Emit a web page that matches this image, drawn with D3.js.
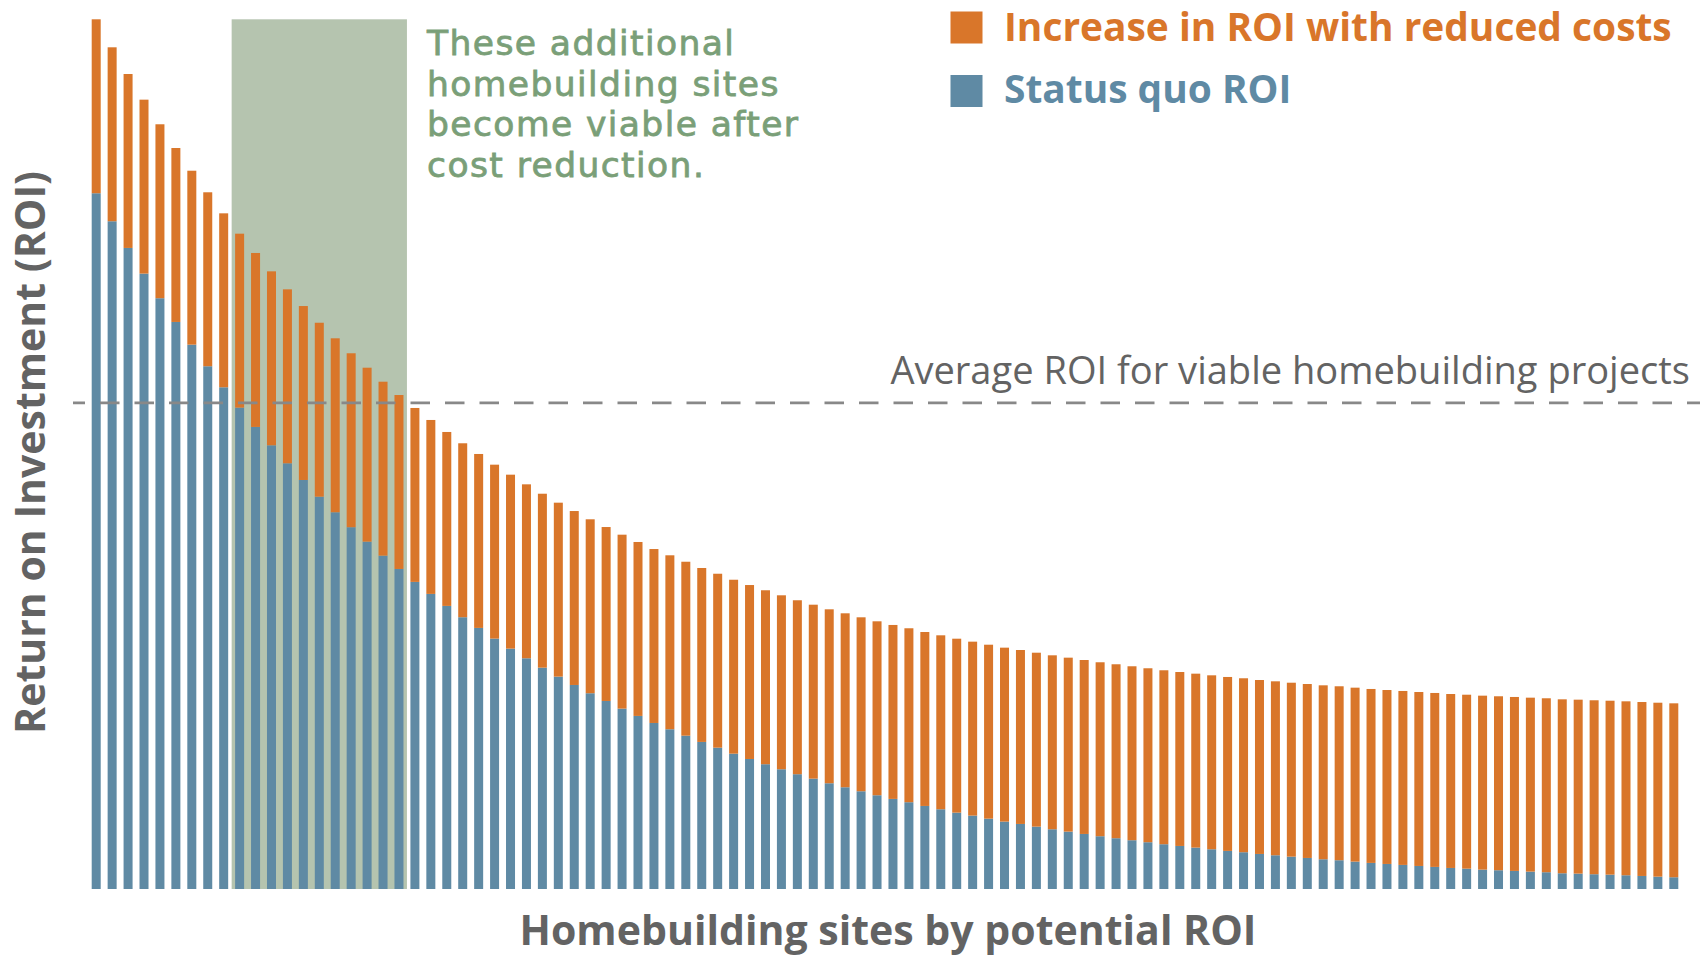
<!DOCTYPE html>
<html>
<head>
<meta charset="utf-8">
<script src="https://cdn.jsdelivr.net/npm/d3@7"></script>
<style>
  html, body { margin: 0; padding: 0; background: #ffffff; }
  svg { display: block; }
</style>
</head>
<body>
<svg id="chart" width="1700" height="958"></svg>
<script>
// ---------------- DATA ----------------
const sites = d3.range(1, 101).map(i => "Site " + i);

const statusQuoROI = [
  80.00, 76.78, 73.71, 70.76, 67.93, 65.20, 62.59, 60.11, 57.69, 55.35,
  53.13, 51.02, 48.95, 47.03, 45.11, 43.32, 41.60, 39.94, 38.33, 36.80,
  35.31, 33.93, 32.55, 31.25, 30.02, 28.79, 27.64, 26.53, 25.45, 24.42,
  23.46, 22.51, 21.62, 20.74, 19.90, 19.09, 18.37, 17.63, 16.91, 16.25,
  15.56, 14.95, 14.35, 13.77, 13.20, 12.69, 12.16, 11.70, 11.24, 10.78,
  10.36, 9.98, 9.55, 9.17, 8.78, 8.44, 8.09, 7.75, 7.48, 7.17,
  6.87, 6.60, 6.33, 6.07, 5.84, 5.61, 5.38, 5.15, 4.95, 4.76,
  4.57, 4.38, 4.23, 4.03, 3.88, 3.72, 3.57, 3.42, 3.31, 3.15,
  3.00, 2.88, 2.77, 2.65, 2.54, 2.42, 2.34, 2.23, 2.16, 2.08,
  2.00, 1.93, 1.81, 1.77, 1.70, 1.65, 1.58, 1.50, 1.42, 1.35
];

const roiIncrease = [
  20, 20, 20, 20, 20, 20, 20, 20, 20, 20,
  20, 20, 20, 20, 20, 20, 20, 20, 20, 20,
  20, 20, 20, 20, 20, 20, 20, 20, 20, 20,
  20, 20, 20, 20, 20, 20, 20, 20, 20, 20,
  20, 20, 20, 20, 20, 20, 20, 20, 20, 20,
  20, 20, 20, 20, 20, 20, 20, 20, 20, 20,
  20, 20, 20, 20, 20, 20, 20, 20, 20, 20,
  20, 20, 20, 20, 20, 20, 20, 20, 20, 20,
  20, 20, 20, 20, 20, 20, 20, 20, 20, 20,
  20, 20, 20, 20, 20, 20, 20, 20, 20, 20
];

const averageViableROI = 55.9;

const seriesNames = ["Increase in ROI with reduced costs", "Status quo ROI"];
const annotationLines = ["These additional", "homebuilding sites", "become viable after", "cost reduction."];
const avgLabel = "Average ROI for viable homebuilding projects";
const xTitle = "Homebuilding sites by potential ROI";
const yTitle = "Return on Investment (ROI)";

// ---------------- STYLE ----------------
const COL_ORANGE = "#D9762A";
const COL_BLUE = "#5F8AA4";
const COL_GREEN_BOX = "#B5C4AF";
const COL_GREEN_TEXT = "#7A9F78";
const COL_GRAY = "#636363";
const FONT = "'Open Sans', 'Noto Sans', sans-serif";
const ANN_FONT = "'DejaVu Sans', 'Open Sans', sans-serif";

const svg = d3.select("#chart");
svg.append("rect").attr("width", 1700).attr("height", 958).attr("fill", "#fff");

const rows = sites.map((s, i) => ({ site: s, sq: statusQuoROI[i], inc: roiIncrease[i] }));

const x = d3.scaleBand().domain(sites).range([91.7, 1678.3]).paddingInner(0.435).paddingOuter(0);
const y = d3.scaleLinear().domain([0, 100]).range([889, 19.3]);

const stack = d3.stack().keys(["sq", "inc"])(rows);

// highlight region: sites that become viable after reduction
const viableAfter = rows.filter(d => d.sq < averageViableROI && d.sq + d.inc >= averageViableROI);
const gapHalf = (x.step() - x.bandwidth()) / 2;
const hx0 = x(viableAfter[0].site) - gapHalf;
const hx1 = x(viableAfter[viableAfter.length - 1].site) + x.bandwidth() + gapHalf;
const maxTotal = d3.max(rows, d => d.sq + d.inc);

svg.append("rect")
  .attr("x", hx0).attr("y", y(maxTotal))
  .attr("width", hx1 - hx0).attr("height", y(0) - y(maxTotal))
  .attr("fill", COL_GREEN_BOX);

// bars
const colors = { sq: COL_BLUE, inc: COL_ORANGE };
svg.append("g").selectAll("g").data(stack).join("g")
  .attr("fill", s => colors[s.key])
  .selectAll("rect").data(s => s).join("rect")
  .attr("x", d => x(d.data.site))
  .attr("y", d => y(d[1]))
  .attr("width", x.bandwidth())
  .attr("height", d => y(d[0]) - y(d[1]));

// average line
svg.append("line")
  .attr("x1", 73).attr("x2", 1700)
  .attr("y1", y(averageViableROI)).attr("y2", y(averageViableROI))
  .attr("stroke", "#888").attr("stroke-width", 2.6)
  .attr("stroke-dasharray", "19.5,15")
  .attr("stroke-dashoffset", 7.5);

function fit(sel, w) {
  const l = sel.node().getComputedTextLength();
  const fs = parseFloat(sel.attr("font-size"));
  sel.attr("font-size", fs * w / l);
  return fs * w / l;
}

// average label
const avgT = svg.append("text")
  .attr("x", 1690).attr("y", 383.5)
  .attr("text-anchor", "end")
  .attr("font-family", FONT).attr("font-size", 32).attr("font-weight", 400)
  .attr("fill", COL_GRAY)
  .text(avgLabel);
fit(avgT, 800);

// annotation (line spacing ~40.5px; font size kept within the line box)
const annSpacing = 40.5;
const annFs = 34.5;
const ann = svg.append("g");
const annTexts = annotationLines.map((t, i) => ann.append("text")
  .attr("x", 427).attr("y", 55 + i * annSpacing)
  .attr("font-family", ANN_FONT).attr("font-size", annFs).attr("font-weight", 400)
  .attr("fill", COL_GREEN_TEXT)
  .attr("stroke", COL_GREEN_TEXT).attr("stroke-width", 0.8)
  .text(t));
// widen glyph spacing so the widest line spans the reference width
const widest = annTexts[2];
const natural = widest.node().getComputedTextLength();
const nChars = annotationLines[2].length;
const ls = Math.max(0, (371 - natural) / (nChars - 1));
annTexts.forEach(t => t.attr("letter-spacing", ls));

// legend
const legend = svg.append("g");
const legendRows = [
  { name: seriesNames[0], color: COL_ORANGE, y: 11.5, base: 41 },
  { name: seriesNames[1], color: COL_BLUE, y: 75, base: 103 }
];
const legTexts = legendRows.map(r => {
  legend.append("rect").attr("x", 950.5).attr("y", r.y).attr("width", 32).attr("height", 32).attr("fill", r.color);
  return legend.append("text")
    .attr("x", 1004).attr("y", r.base)
    .attr("font-family", FONT).attr("font-size", 36).attr("font-weight", 700)
    .attr("fill", r.color)
    .text(r.name);
});
const legFs = fit(legTexts[0], 668);
legTexts[1].attr("font-size", legFs);

// axis titles
const xt = svg.append("text")
  .attr("x", 888).attr("y", 945)
  .attr("text-anchor", "middle")
  .attr("font-family", FONT).attr("font-size", 36).attr("font-weight", 700)
  .attr("fill", COL_GRAY)
  .text(xTitle);
fit(xt, 737);

const yt = svg.append("text")
  .attr("transform", "translate(45,452.5) rotate(-90)")
  .attr("text-anchor", "middle")
  .attr("font-family", FONT).attr("font-size", 36).attr("font-weight", 700)
  .attr("fill", COL_GRAY)
  .text(yTitle);
fit(yt, 563);
</script>
</body>
</html>
